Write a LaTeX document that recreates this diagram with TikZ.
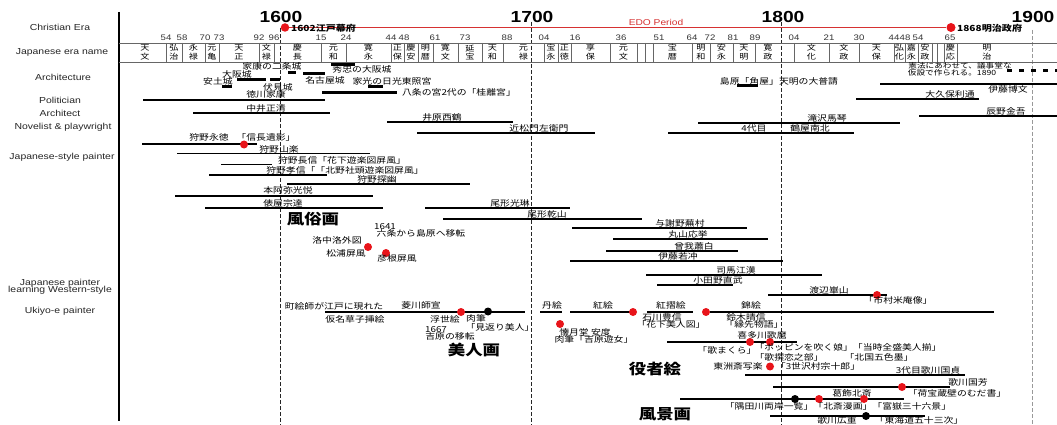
\documentclass[tikz,border=0pt]{standalone}
\usepackage{fontspec}
\newfontfamily\latf{Liberation Sans}[FakeStretch=1.2]
\newfontfamily\jpf{Noto Sans CJK JP}[FakeStretch=1.2]
\definecolor{dotred}{RGB}{232,20,26}
\definecolor{edored}{RGB}{214,50,50}
\tikzset{
 lab/.style={font=\latf\fontsize{8.7}{9.5}\selectfont, inner sep=0pt, align=center, text=black!85},
 yr/.style={font=\latf\bfseries\fontsize{16}{16}\selectfont, inner sep=0pt},
 num/.style={font=\latf\fontsize{8}{8}\selectfont, inner sep=0pt, text=black!80},
 era/.style={font=\jpf\fontsize{7.6}{8.8}\selectfont, inner sep=0pt, align=center},
 jp/.style={font=\jpf\fontsize{8.2}{8.5}\selectfont, inner sep=0pt},
 big/.style={font=\jpf\bfseries\fontsize{14.5}{15}\selectfont, inner sep=0pt},
 life/.style={line width=1.3pt},
 bar/.style={line width=3pt},
 uki/.style={line width=2.6pt},
 rdot/.style={circle, fill=dotred, minimum size=8pt, inner sep=0pt},
 bdot/.style={circle, fill=black, minimum size=8pt, inner sep=0pt},
 cent/.style={dash pattern=on 4pt off 2pt, line width=0.9pt},
 sep/.style={black!60, line width=0.6pt},
 edotxt/.style={font=\jpf\bfseries\fontsize{8.4}{8.4}\selectfont, inner sep=0pt, anchor=west},
}
\begin{document}
\begin{tikzpicture}[x=1pt,y=-1pt]
\useasboundingbox (0,0) rectangle (1057,425);
\fill[white] (0,0) rectangle (1057,425);

% axis and century lines
\draw[line width=1.2pt] (119,12) -- (119,421);
\draw[cent, black!85] (280,28) -- (280,425);
\draw[cent, black!85] (531,22) -- (531,425);
\draw[cent, black!85] (781,22) -- (781,425);
\draw[cent, black!40] (1032,30) -- (1032,425);

% left labels
\node[lab] (lce) at (60,27) {Christian Era};
\node[lab] (len) at (62,52) {Japanese era name};
\node[lab] (lar) at (63,77) {Architecture};
\node[lab] (lpo) at (60,100) {Politician};
\node[lab] (lat) at (60,113) {Architect};
\node[lab] (lnp) at (63,127) {Novelist \& playwright};
\node[lab] (ljs) at (62,157) {Japanese-style painter};
\node[lab] (lws) at (60,287) {Japanese painter\\[-2.5pt]learning Western-style};
\node[lab] (luk) at (60,311) {Ukiyo-e painter};

% years
\node[yr] (y16) at (281,16.5) {1600};
\node[yr] (y17) at (532,16.5) {1700};
\node[yr] (y18) at (783,16.5) {1800};
\node[yr] (y19) at (1033,16.5) {1900};

% Edo period
\node[rdot, minimum size=8.5pt] (d1602) at (285,27.5) {};
\node[rdot, minimum size=9pt] (d1868) at (951,27.5) {};
\draw[edored, line width=1.5pt] (d1602) -- (d1868);
\node[font=\latf\fontsize{8.5}{9}\selectfont, text=edored, inner sep=0pt] (edo) at (656,22) {EDO Period};
\node[edotxt] (bak) at (291,28) {1602江戸幕府};
\node[edotxt] (mei) at (957,28) {1868明治政府};

% era box
\draw[sep] (119,43) -- (1057,43);
\draw[sep] (119,62) -- (1057,62);
\foreach \s in {166,182,205,219,259,274,321,346,391,404,418,433,458,482,503,544,558,571,610,637,645,653,692,710,733,755,794,829,859,894,905,918,932,937,944,957}
  \draw[sep] (\s,43) -- (\s,62);
\foreach \x/\t in {166/54,182/58,205/70,219/73,259/92,274/96,321/15,346/24,391/44,404/48,435/61,465/73,507/88,544/04,575/16,621/36,659/51,692/64,710/72,733/81,755/89,794/04,829/21,859/30,894/44,905/48,918/54,950/65}
  \node[num] at (\x,38) {\t};
\foreach \x/\a/\b in {145/天/文,174/弘/治,193.5/永/禄,212/元/亀,239/天/正,266.5/文/禄,297.5/慶/長,333.5/元/和,368.5/寛/永,397.5/正/保,411/慶/安,425.5/明/暦,445.5/寛/文,470/延/宝,492.5/天/和,523.5/元/禄,551/宝/永,564.5/正/徳,590.5/享/保,623.5/元/文,672.5/宝/暦,701/明/和,721.5/安/永,744/天/明,768/寛/政,811.5/文/化,844/文/政,876.5/天/保,899.5/弘/化,911.5/嘉/永,925/安/政,950.5/慶/応,987/明/治}
  \node[era] at (\x,52.5) {\a\\\b};

% Architecture
\node[jp] (a1) at (272,66) {家康の二条城};
\draw[bar] (288,73) -- (296,73);
\draw[bar] (303,73.5) -- (325,73.5);
\node[jp] (a2) at (237,74.5) {大阪城};
\node[jp] (a3) at (218,81) {安土城};
\draw[bar] (237,80) -- (266,80);
\draw[bar] (270,80) -- (280,80);
\draw[bar] (222,87) -- (232,87);
\node[jp] (a4) at (278,87) {伏見城};
\node[jp] (a5) at (325,80) {名古屋城};
\draw[bar] (331,64.5) -- (355,64.5);
\node[jp] (a6) at (362,69) {秀忠の大阪城};
\node[jp] (a7) at (392,81) {家光の日光東照宮};
\draw[bar] (368,86.5) -- (383,86.5);
\draw[bar] (322,93) -- (397,93);
\node[jp] (a8) at (459,92) {八条の宮2代の「桂離宮」};
\node[jp] (a9) at (779,81) {島原「角屋」天明の大普請};
\draw[bar] (737,86) -- (758,86);
\node[jp, font=\jpf\fontsize{7.2}{7.5}\selectfont] (a10) at (960,66) {憲法にあわせて、議事堂な};
\node[jp, font=\jpf\fontsize{7.2}{7.5}\selectfont] (a11) at (952,72.5) {仮設で作られる。1890};
\draw[line width=3pt, dash pattern=on 5pt off 7pt] (1007,71) -- (1057,71);

% Politician / Architect
\node[jp] (p1) at (266,94.5) {徳川家康};
\draw[life] (143,100) -- (325,100);
\draw[life] (880,84) -- (1057,84);
\node[jp] (p2) at (1008,89.5) {伊藤博文};
\node[jp] (p3) at (950,94) {大久保利通};
\draw[life] (856,99) -- (979,99);
\node[jp] (r1) at (266,108) {中井正清};
\draw[life] (193,113) -- (330,113);
\node[jp] (r2) at (1006,111) {辰野金吾};
\draw[life] (919,116) -- (1057,116);

% Novelist
\node[jp] (n1) at (442,117) {井原西鶴};
\draw[life] (387,122) -- (513,122);
\node[jp] (n2) at (539,128) {近松門左衛門};
\draw[life] (417,133) -- (595,133);
\node[jp] (n3) at (827,118) {滝沢馬琴};
\draw[life] (698,123) -- (900,123);
\node[jp] (n4) at (754,128) {4代目};
\node[jp] (n5) at (810,128) {鶴屋南北};
\draw[life] (668,133) -- (854,133);

% Japanese-style painters
\node[jp] (j1) at (209,137) {狩野永徳};
\node[jp] (j1b) at (266,137) {「信長遺影」};
\draw[life] (142,144) -- (257,144);
\node[rdot] at (244,144.5) {};
\node[jp] (j2) at (279,149) {狩野山楽};
\draw[life] (177,153.5) -- (370,153.5);
\node[jp] (j3) at (342,160) {狩野長信「花下遊楽図屏風」};
\draw[life] (221,164.5) -- (272,164.5);
\node[jp] (j4) at (345,170.5) {狩野孝信「「北野社頭遊楽図屏風」};
\draw[life] (209,175) -- (327,175);
\node[jp] (j5) at (377,179) {狩野探幽};
\draw[life] (287,184) -- (470,184);
\node[jp] (j6) at (288,190.5) {本阿弥光悦};
\draw[life] (175,196) -- (373,196);
\node[jp] (j7) at (283,203) {俵屋宗達};
\draw[life] (205,208) -- (383,208);
\node[jp] (j8) at (510,203.5) {尾形光琳};
\draw[life] (425,208) -- (570,208);
\node[jp] (j9) at (547,214) {尾形乾山};
\draw[life] (443,219) -- (642,219);
\node[jp] (j10) at (680,223) {与謝野蕪村};
\draw[life] (572,228) -- (747,228);
\node[jp] (j11) at (688,234) {丸山応挙};
\draw[life] (613,239) -- (768,239);
\node[jp] (j12) at (694,246) {曾我蕭白};
\draw[life] (606,251) -- (738,251);
\node[jp] (j13) at (678,256) {伊藤若冲};
\draw[life] (570,261) -- (783,261);

% genre painting
\node[big] (g1) at (313,219) {風俗画};
\node[jp] (g2) at (385,227) {1641};
\node[jp] (g3) at (421,233) {六条から島原へ移転};
\node[jp] (g4) at (337,240) {洛中洛外図};
\node[rdot] at (368,247) {};
\node[jp] (g5) at (346,253) {松浦屏風};
\node[rdot] at (386,253) {};
\node[jp] (g6) at (397,258.5) {彦根屏風};

% Western-style
\node[jp] (w1) at (736,270) {司馬江漢};
\draw[life] (646,275) -- (822,275);
\node[jp] (w2) at (718,280) {小田野直武};
\draw[life] (657,285) -- (733,285);
\node[jp] (w3) at (829,290) {渡辺崋山};
\draw[life] (768,295) -- (887,295);
\node[rdot] at (877,295) {};
\node[jp] (w4) at (898,300.5) {「市村米庵像」};

% Ukiyo-e
\node[jp] (u1) at (334,306) {町絵師が江戸に現れた};
\node[jp] (u2) at (421,305) {菱川師宣};
\draw[uki] (325,312) -- (525,312);
\node[rdot] at (461,312) {};
\node[bdot] at (488,311.5) {};
\node[jp] (u3) at (355,319) {仮名草子挿絵};
\node[jp] (u4) at (445,319) {浮世絵};
\node[jp] (u5) at (476,318.5) {肉筆};
\node[jp] (u6) at (500,327) {「見返り美人」};
\node[jp] (u7) at (436,330) {1667};
\node[jp] (u8) at (450,336.5) {吉原の移転};
\node[big] (u9) at (474,349.5) {美人画};
\node[jp] (k1) at (552,305) {丹絵};
\draw[uki] (540,312) -- (562,312);
\node[jp] (k2) at (603,305) {紅絵};
\draw[uki] (570,312) -- (632,312);
\node[rdot] at (633,312) {};
\node[jp] (k3) at (671,305) {紅摺絵};
\draw[uki] (647,312) -- (693,312);
\node[rdot] at (706,312) {};
\node[jp] (k4) at (751,305) {錦絵};
\draw[uki] (710,312) -- (994,312);
\node[jp] (k5) at (662,317.5) {石川豊信};
\node[jp] (k6) at (671,324.5) {「花下美人図」};
\node[jp] (k7) at (746,317.5) {鈴木晴信};
\node[jp] (k8) at (754,324.5) {「縁先物語」};
\node[rdot] at (560,324) {};
\node[jp] (k9) at (585,332) {懐月堂 安度};
\node[jp] (k10) at (594,339) {肉筆「吉原遊女」};
\node[jp] (m1) at (762,335.5) {喜多川歌麿};
\draw[life] (667,342) -- (797,342);
\node[rdot] at (750,342) {};
\node[rdot] at (770,342) {};
\node[jp] (m2) at (727,350) {「歌まくら」};
\node[jp] (m3) at (848,347.5) {「ポッピンを吹く娘」「当時全盛美人揃」};
\node[jp] (m4) at (789,357.5) {「歌撰恋之部」};
\node[jp] (m5) at (879,357.5) {「北国五色墨」};
\node[big] (m6) at (655,369) {役者絵};
\node[jp] (s1) at (738,366.5) {東洲斎写楽};
\node[rdot] at (770,366.5) {};
\node[jp] (s2) at (818,366.5) {「3世沢村宗十郎」};
\node[jp] (s3) at (928,370) {3代目歌川国貞};
\draw[life] (745,375) -- (965,375);
\node[jp] (s4) at (968,382) {歌川国芳};
\draw[life] (773,387) -- (950,387);
\node[rdot] at (902,387) {};
\node[jp] (s5) at (957,393) {「荷宝蔵壁のむだ書」};
\node[jp] (h1) at (852,393) {葛飾北斎};
\draw[life] (680,399) -- (904,399);
\node[bdot] at (795,399) {};
\node[rdot] at (819,399) {};
\node[rdot] at (864,399) {};
\node[jp] (h2) at (838,406) {「隅田川両岸一覧」「北斎漫画」「富嶽三十六景」};
\node[big] (h3) at (665,414) {風景画};
\draw[life] (770,416) -- (925,416);
\node[bdot] at (866,416) {};
\node[jp] (h4) at (837,420.5) {歌川広重};
\node[jp] (h5) at (919,420.5) {「東海道五十三次」};
\end{tikzpicture}
\end{document}
